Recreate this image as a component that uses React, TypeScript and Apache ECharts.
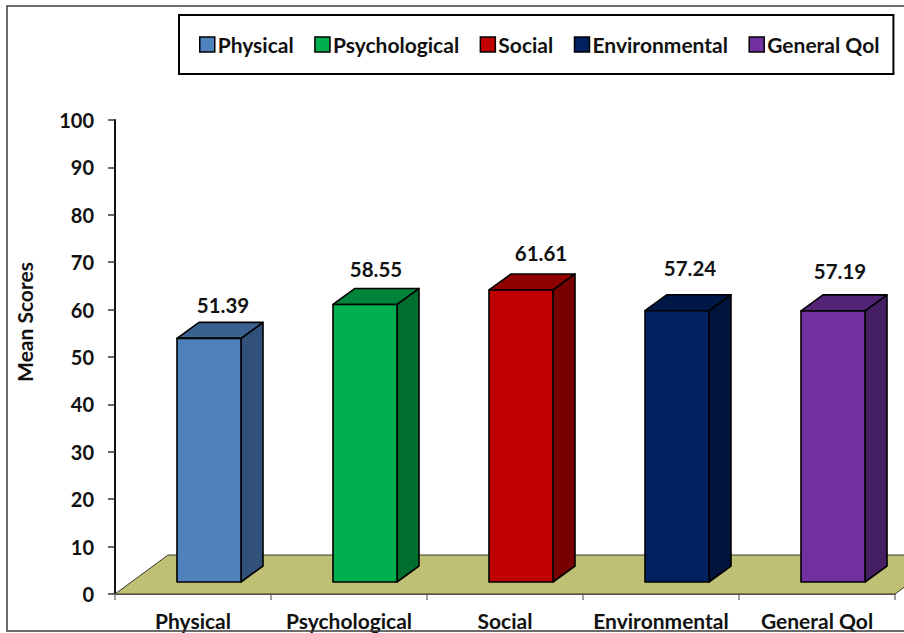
import React, { useEffect, useRef } from "react";
import * as echarts from "echarts";

const categories = ["Physical", "Psychological", "Social", "Environmental", "General Qol"];
const meanScores = [51.39, 58.55, 61.61, 57.24, 57.19];
const frontColors = ["#4F81BD", "#00B050", "#C00000", "#002060", "#7030A0"];
const topColors = ["#3B6190", "#008439", "#900000", "#001848", "#542478"];
const sideColors = ["#31517A", "#006E2E", "#780000", "#00143C", "#461E64"];
const yTicks = { min: 0, max: 100, interval: 10 };

// Extrusion of the 3D columns and floor, in pixels.
const BAR_WIDTH = 64;
const BAR_INSET = -16;
const BASE_LIFT = 12;
const DEPTH_X = 22;
const DEPTH_Y = 16;
const FLOOR_DEPTH_X = 53;
const FLOOR_DEPTH_Y = 39;
// Horizontal and vertical nudges of each value label from its column.
const labelDx = [30, 27, 36, 29, 23];
const labelDy = [-17, -19, -21, -27, -24];

const FONT = "Lato, Carlito, sans-serif";

const outline = { stroke: "#000", lineWidth: 1.6, lineJoin: "round" as const };

function floorItem(params: any) {
  const { x, y, width, height } = params.coordSys;
  const bottom = y + height;
  return {
    type: "polygon",
    silent: true,
    shape: {
      points: [
        [x, bottom],
        [x + FLOOR_DEPTH_X, bottom - FLOOR_DEPTH_Y],
        [x + width + FLOOR_DEPTH_X, bottom - FLOOR_DEPTH_Y],
        [x + width, bottom],
      ],
    },
    style: { fill: "#BFBF75", stroke: "#3a3a2a", lineWidth: 1 },
  };
}

function columnItem(index: number) {
  return (_params: any, api: any) => {
    const value = api.value(1);
    const base = api.coord([api.value(0), 0]);
    const head = api.coord([api.value(0), value]);
    const left = base[0] + BAR_INSET;
    const right = left + BAR_WIDTH;
    const bottom = base[1] - BASE_LIFT;
    const top = head[1] - BASE_LIFT;
    return {
      type: "group",
      children: [
        {
          type: "polygon",
          shape: { points: [[right, top], [right + DEPTH_X, top - DEPTH_Y], [right + DEPTH_X, bottom - DEPTH_Y], [right, bottom]] },
          style: { fill: sideColors[index], ...outline },
        },
        {
          type: "polygon",
          shape: { points: [[left, top], [left + DEPTH_X, top - DEPTH_Y], [right + DEPTH_X, top - DEPTH_Y], [right, top]] },
          style: { fill: topColors[index], ...outline },
        },
        {
          type: "rect",
          shape: { x: left, y: top, width: BAR_WIDTH, height: bottom - top },
          style: { fill: frontColors[index], ...outline },
        },
        {
          type: "text",
          x: base[0] + labelDx[index],
          y: top - DEPTH_Y + labelDy[index],
          style: {
            text: value.toFixed(2),
            fill: "#111",
            font: `bold 20.5px ${FONT}`,
            align: "center",
            verticalAlign: "middle",
          },
        },
      ],
    };
  };
}

export default function App() {
  const ref = useRef<HTMLDivElement>(null);

  useEffect(() => {
    const chart = echarts.init(ref.current!, undefined, { renderer: "svg" });
    chart.setOption({
      animation: false,
      backgroundColor: "#fff",
      textStyle: { fontFamily: FONT },
      grid: { left: 115, right: 9, top: 120, bottom: 39, containLabel: false, outerBoundsMode: "none" },
      legend: {
        left: 179,
        top: 15,
        orient: "horizontal",
        padding: [19, 14, 19, 20],
        itemGap: 20.5,
        itemWidth: 15,
        itemHeight: 15,
        icon: "rect",
        borderColor: "#000",
        borderWidth: 2,
        selectedMode: false,
        textStyle: { fontSize: 21, fontWeight: "bold", color: "#111", fontFamily: FONT, padding: [0, 0, 0, -2] },
        data: categories.map((name, i) => ({
          name,
          itemStyle: { color: frontColors[i], borderColor: "#000", borderWidth: 1.5 },
        })),
      },
      xAxis: {
        type: "category",
        data: categories,
        axisLine: { lineStyle: { color: "#6b6b6b", width: 2 } },
        axisTick: { show: true, length: 6, lineStyle: { color: "#808080", width: 1.5 } },
        axisLabel: { fontSize: 21, fontWeight: "bold", color: "#111", fontFamily: FONT, margin: 16, interval: 0 },
      },
      yAxis: {
        type: "value",
        min: yTicks.min,
        max: yTicks.max,
        interval: yTicks.interval,
        name: "Mean Scores",
        nameLocation: "middle",
        nameGap: 80,
        nameTextStyle: { fontSize: 21, fontWeight: "bold", color: "#111", fontFamily: FONT, padding: [0, 0, 0, 70] },
        axisLine: { show: true, lineStyle: { color: "#111", width: 2 } },
        axisTick: { show: true, length: 7, lineStyle: { color: "#333", width: 1.5 } },
        axisLabel: { fontSize: 20, fontWeight: "bold", color: "#111", fontFamily: FONT, margin: 21 },
        splitLine: { show: false },
      },
      graphic: [
        {
          type: "rect",
          silent: true,
          z: 10,
          x: 7,
          y: 6,
          shape: { x: 0, y: 0, width: 1000, height: 625 },
          style: { fill: "none", stroke: "#3c3c3c", lineWidth: 1.5 },
        },
      ],
      series: [
        {
          name: "Floor",
          type: "custom",
          z: 1,
          silent: true,
          data: [[0, 0]],
          renderItem: floorItem,
        },
        ...categories.map((name, i) => ({
          name,
          type: "custom",
          z: 2,
          encode: { x: 0, y: 1 },
          itemStyle: { color: frontColors[i] },
          data: [[name, meanScores[i]]],
          renderItem: columnItem(i),
        })),
      ],
    });
    return () => chart.dispose();
  }, []);

  return <div ref={ref} style={{ position: "fixed", left: 0, top: 0, width: 904, height: 633 }} />;
}
